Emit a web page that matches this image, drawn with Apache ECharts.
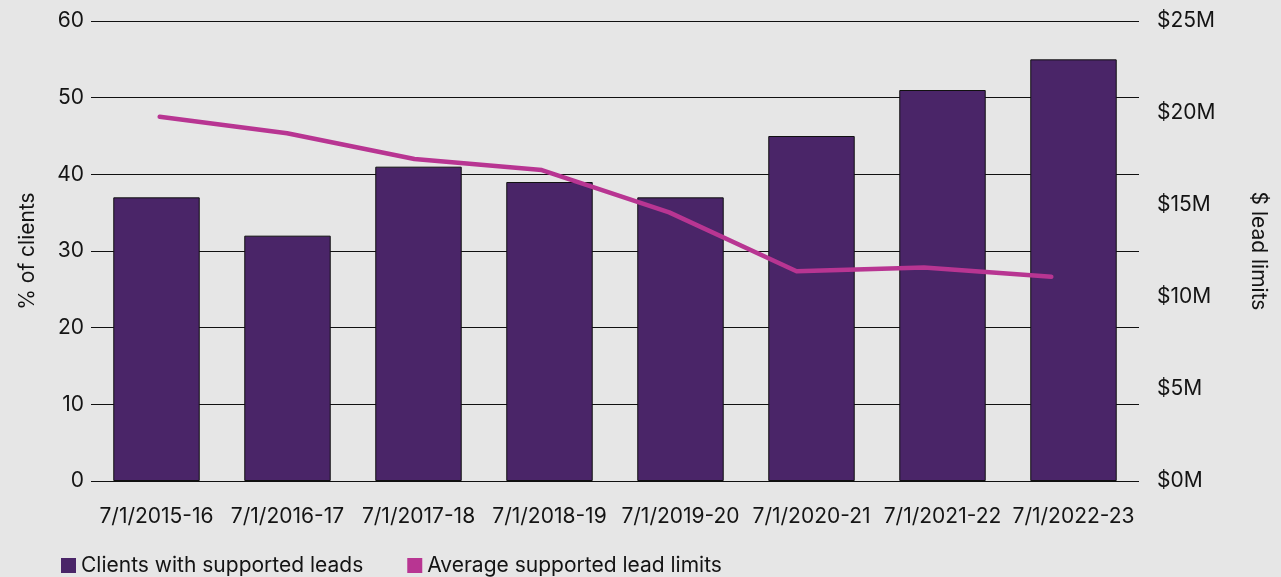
<!DOCTYPE html>
<html><head><meta charset="utf-8">
<script src="https://cdn.jsdelivr.net/npm/echarts@6/dist/echarts.min.js"></script>
<style>html,body{margin:0;padding:0;background:#e6e6e6;}#c{width:1281px;height:577px;}</style>
</head><body><div id="c"></div>
<script>
var categories = ['7/1/2015-16','7/1/2016-17','7/1/2017-18','7/1/2018-19','7/1/2019-20','7/1/2020-21','7/1/2021-22','7/1/2022-23'];
var clientsPct = [37, 32, 41, 39, 37, 45, 51, 55];
var leadLimitsM = [19.8, 18.9, 17.5, 16.9, 14.6, 11.4, 11.6, 11.1];
var seriesNames = ['Clients with supported leads', 'Average supported lead limits'];
var FONT = 'Inter, "Noto Sans", sans-serif';
var TXT = '#141414';
var FS = 21;
var chart = echarts.init(document.getElementById('c'));
chart.setOption({
  backgroundColor: '#e6e6e6',
  animation: false,
  textStyle: {fontFamily: FONT, color: TXT},
  grid: [
    {left: 91, right: 142, top: 21, bottom: 96, containLabel: false},
    {left: 96, width: 1019, top: 21, bottom: 96, containLabel: false}
  ],
  legend: {
    left: 56, top: 550, itemWidth: 15, itemHeight: 15, itemGap: 44, icon: 'rect',
    itemStyle: {borderWidth: 0},
    textStyle: {fontSize: FS, color: TXT, fontFamily: FONT},
    data: seriesNames
  },
  xAxis: [
    {type: 'category', gridIndex: 0, data: categories, boundaryGap: true,
     axisLine: {show: false}, axisTick: {show: false},
     axisLabel: {fontSize: FS, color: TXT, margin: 25, interval: 0, fontFamily: FONT}},
    {type: 'category', gridIndex: 1, data: categories, boundaryGap: true, show: false}
  ],
  yAxis: [
    {type: 'value', gridIndex: 0, min: 0, max: 60, interval: 10,
     name: '% of clients', nameLocation: 'middle', nameGap: 53, nameRotate: 90,
     nameTextStyle: {fontSize: FS, color: TXT, fontFamily: FONT},
     axisLine: {show: false}, axisTick: {show: false},
     axisLabel: {fontSize: FS, color: TXT, margin: 7, fontFamily: FONT},
     splitLine: {show: true, lineStyle: {color: '#111', width: 1}}},
    {type: 'value', gridIndex: 0, min: 0, max: 25, interval: 5, position: 'right',
     name: '$ lead limits', nameLocation: 'middle', nameGap: 109, nameRotate: -90,
     nameTextStyle: {fontSize: FS, color: TXT, fontFamily: FONT},
     axisLine: {show: false}, axisTick: {show: false},
     axisLabel: {fontSize: FS, color: TXT, margin: 18, fontFamily: FONT,
       formatter: function (v) { return '$' + v + 'M'; }},
     splitLine: {show: false}},
    {type: 'value', gridIndex: 1, min: 0, max: 25, interval: 5, show: false}
  ],
  series: [
    {name: seriesNames[0], type: 'bar', xAxisIndex: 0, yAxisIndex: 0, data: clientsPct,
     barCategoryGap: '34%',
     itemStyle: {color: '#4a2568', borderColor: '#111', borderWidth: 1}},
    {name: seriesNames[1], type: 'line', xAxisIndex: 1, yAxisIndex: 2, data: leadLimitsM,
     symbol: 'none', lineStyle: {color: '#b83592', width: 4.5, cap: 'round', join: 'round'},
     itemStyle: {color: '#b83592'}}
  ]
});
</script></body></html>
